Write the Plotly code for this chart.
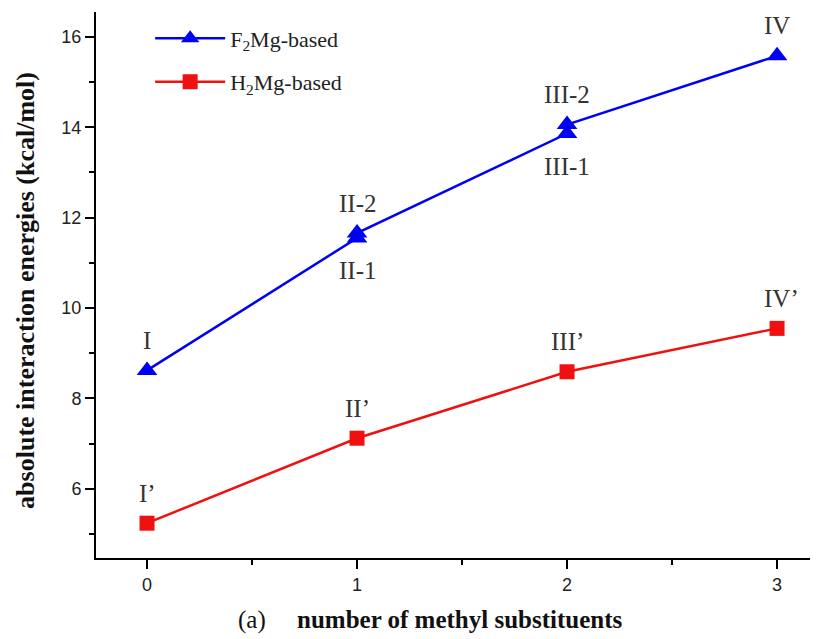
import plotly.graph_objects as go

# Data
f2_x = [0, 1, 1, 2, 2, 3]
f2_y = [8.62, 11.55, 11.66, 13.86, 14.06, 15.58]
f2_labels = ["I", "II-1", "II-2", "III-1", "III-2", "IV"]
f2_label_pos = ["above", "below", "above", "below", "above", "above"]

h2_x = [0, 1, 2, 3]
h2_y = [5.24, 7.12, 8.59, 9.55]
h2_labels = ["I\u2019", "II\u2019", "III\u2019", "IV\u2019"]

x_ticks = [0, 1, 2, 3]
y_ticks = [6, 8, 10, 12, 14, 16]

BLUE = "#0000F5"
RED = "#F01010"
serif = "Liberation Serif, Times New Roman, serif"
sans = "Liberation Sans, Arial, sans-serif"

fig = go.Figure()
fig.add_trace(go.Scatter(
    x=f2_x, y=f2_y, mode="lines+markers", name="F<sub>2</sub>Mg-based",
    legendgroup="a",
    line=dict(color=BLUE, width=2.5),
    marker=dict(symbol="triangle-up", size=18, color=BLUE),
))
fig.add_trace(go.Scatter(
    x=h2_x, y=h2_y, mode="lines+markers", name="H<sub>2</sub>Mg-based",
    legendgroup="b",
    line=dict(color=RED, width=2.5),
    marker=dict(symbol="square", size=15, color=RED),
))

lab_font = dict(family=serif, size=25, color="#333333")
for x, y, t, p in zip(f2_x, f2_y, f2_labels, f2_label_pos):
    fig.add_annotation(x=x, y=y, text=t, showarrow=False, font=lab_font,
                       yshift=(30 if p == "above" else -33))
for x, y, t in zip(h2_x, h2_y, h2_labels):
    fig.add_annotation(x=x, y=y, text=t, showarrow=False, font=lab_font,
                       yshift=30, xshift=(4 if t == "IV\u2019" else 0))

# axis titles
fig.add_annotation(xref="paper", yref="paper", x=-0.097, y=0.491, textangle=-90,
                   xanchor="center", yanchor="middle",
                   text="<b>absolute interaction energies (kcal/mol)</b>",
                   showarrow=False, font=dict(family=serif, size=26, color="#111111"))
fig.add_annotation(xref="paper", yref="paper", x=0.463, y=-0.113,
                   xanchor="center", yanchor="middle",
                   text="(a)&nbsp;&nbsp;&nbsp;&nbsp;&nbsp;<b>number of methyl substituents</b>",
                   showarrow=False, font=dict(family=serif, size=25, color="#111111"))

fig.update_layout(
    width=818, height=639,
    margin=dict(l=88, r=8, t=4, b=89),
    paper_bgcolor="white", plot_bgcolor="white",
    showlegend=True,
    legend=dict(x=0.075, y=0.99, xanchor="left", yanchor="top",
                font=dict(family=serif, size=22, color="#222222"),
                bgcolor="rgba(0,0,0,0)", itemwidth=70, tracegroupgap=12),
    xaxis=dict(range=[-0.243, 3.195], tickvals=x_ticks, showgrid=False, zeroline=False,
               showline=True, linecolor="black", linewidth=2, ticks="outside",
               ticklen=9, tickwidth=2, tickcolor="black",
               tickfont=dict(family=sans, size=18, color="#222222"),
               minor=dict(dtick=0.5, ticks="outside", ticklen=5, tickwidth=2, tickcolor="black")),
    yaxis=dict(range=[4.47, 16.55], tickvals=y_ticks, showgrid=False, zeroline=False,
               showline=True, linecolor="black", linewidth=2, ticks="outside",
               ticklen=9, tickwidth=2, tickcolor="black",
               tickfont=dict(family=sans, size=18, color="#222222"),
               minor=dict(dtick=1, tick0=5, ticks="outside", ticklen=5, tickwidth=2, tickcolor="black")),
)

fig.write_html("out.html")
